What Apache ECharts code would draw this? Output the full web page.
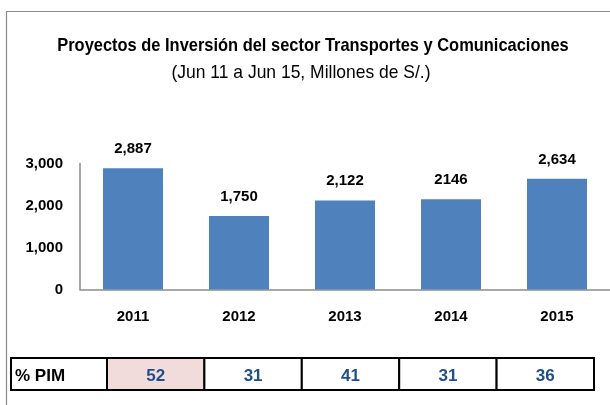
<!DOCTYPE html>
<html>
<head>
<meta charset="utf-8">
<script src="https://cdn.jsdelivr.net/npm/echarts@6/dist/echarts.min.js"></script>
<style>
  html, body { margin: 0; padding: 0; background: #ffffff; }
  #chart { width: 610px; height: 405px; }
</style>
</head>
<body>
<div id="chart"></div>
<script>
// Investment projects, transport & communications sector (millions of soles)
const years = ['2011', '2012', '2013', '2014', '2015'];
const investment = [2887, 1750, 2122, 2146, 2634];
const investmentLabels = ['2,887', '1,750', '2,122', '2146', '2,634'];
const pimPercent = [52, 31, 41, 31, 36];
const yTicks = [0, 1000, 2000, 3000];

const FONT = '"Liberation Sans", Arial, sans-serif';
const BAR = '#4F81BD';
const AXIS = '#8C8C8C';

const chart = echarts.init(document.getElementById('chart'), null, { renderer: 'canvas' });

const option = {
  backgroundColor: '#ffffff',
  animation: false,
  grid: [
    { left: 80, top: 163.5, width: 535, height: 126 },
    { left: 107, top: 358, width: 487, height: 32 }
  ],
  xAxis: [
    {
      gridIndex: 0,
      type: 'category',
      data: years,
      axisLine: { lineStyle: { color: AXIS, width: 1.5 } },
      axisTick: { show: false },
      axisLabel: { color: '#000', fontFamily: FONT, fontWeight: 'bold', fontSize: 15, margin: 20 }
    },
    {
      gridIndex: 1,
      type: 'category',
      data: years,
      show: false
    }
  ],
  yAxis: [
    {
      gridIndex: 0,
      type: 'value',
      min: 0,
      max: 3000,
      interval: 1000,
      axisLine: { show: true, lineStyle: { color: AXIS, width: 1.5 } },
      axisTick: { show: false },
      splitLine: { show: false },
      axisLabel: {
        color: '#000', fontFamily: FONT, fontWeight: 'bold', fontSize: 15, margin: 17,
        formatter: v => yTicks.includes(v) ? v.toLocaleString('en-US') : ''
      }
    },
    { gridIndex: 1, type: 'value', min: 0, max: 1, show: false }
  ],
  series: [
    {
      type: 'bar',
      xAxisIndex: 0,
      yAxisIndex: 0,
      data: investment,
      barWidth: 60,
      itemStyle: { color: BAR },
      label: {
        show: true,
        position: 'top',
        distance: 12,
        color: '#000',
        fontFamily: FONT,
        fontWeight: 'bold',
        fontSize: 15,
        formatter: p => investmentLabels[p.dataIndex]
      }
    },
    {
      // % PIM row: one cell per year
      type: 'custom',
      xAxisIndex: 1,
      yAxisIndex: 1,
      data: pimPercent.map((v, i) => [i, v]),
      renderItem: (params, api) => {
        const i = api.value(0);
        const topLeft = api.coord([i, 1]);
        const size = api.size([1, 1]);
        const x = topLeft[0] - size[0] / 2;
        const y = topLeft[1];
        return {
          type: 'group',
          children: [
            {
              type: 'rect',
              shape: { x: x, y: y, width: size[0], height: size[1] },
              style: { fill: i === 0 ? '#F2DCDB' : '#ffffff', stroke: '#000', lineWidth: 2 }
            },
            {
              type: 'text',
              style: {
                x: x + size[0] / 2, y: y + size[1] / 2 + 2,
                text: String(api.value(1)),
                align: 'center', verticalAlign: 'middle',
                fill: '#1F4E8C', font: 'bold 17px ' + FONT
              }
            }
          ]
        };
      }
    }
  ],
  graphic: [
    {
      // outer frame
      type: 'rect',
      silent: true,
      shape: { x: 6.5, y: 11.5, width: 700, height: 500 },
      style: { fill: null, stroke: '#8C8C8C', lineWidth: 1.2 }
    },
    {
      type: 'text',
      x: 313, y: 46,
      scaleX: 0.865,
      style: {
        text: 'Proyectos de Inversión del sector Transportes y Comunicaciones',
        align: 'center', verticalAlign: 'middle',
        fill: '#000', font: 'bold 19px ' + FONT
      }
    },
    {
      type: 'text',
      x: 301, y: 73,
      scaleX: 0.92,
      style: {
        text: '(Jun 11 a Jun 15, Millones de S/.)',
        align: 'center', verticalAlign: 'middle',
        fill: '#000', font: '19px ' + FONT
      }
    },
    {
      // row header cell
      type: 'rect',
      shape: { x: 11, y: 358, width: 96, height: 32 },
      style: { fill: '#ffffff', stroke: '#000', lineWidth: 2 }
    },
    {
      type: 'text',
      x: 15, y: 376,
      style: {
        text: '% PIM', align: 'left', verticalAlign: 'middle',
        fill: '#000', font: 'bold 17px ' + FONT
      }
    }
  ]
};

chart.setOption(option);
</script>
</body>
</html>
